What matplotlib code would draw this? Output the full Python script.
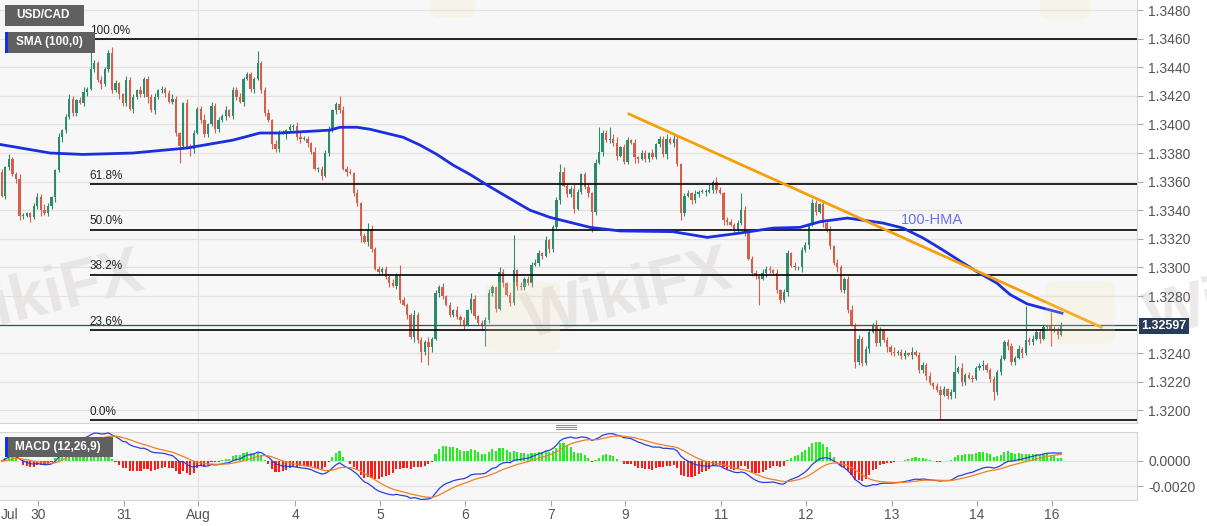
import numpy as np
import pandas as pd
import matplotlib
matplotlib.use("Agg")
import matplotlib.pyplot as plt
from matplotlib.patches import Rectangle, FancyBboxPatch
from matplotlib.lines import Line2D

plt.rcParams["font.family"] = ["Liberation Sans", "DejaVu Sans"]

W, H = 1207, 526

# hourly USD/CAD closes, in pips (13350 -> 1.3350)
closes_pips = [
    13350, 13370, 13376, 13365, 13362, 13336, 13336, 13338, 13335, 13343,
    13349, 13340, 13338, 13343, 13349, 13368, 13391, 13396, 13405, 13418,
    13408, 13417, 13415, 13423, 13425, 13439, 13443, 13431, 13428, 13439,
    13450, 13424, 13429, 13421, 13415, 13431, 13411, 13419, 13424, 13421,
    13432, 13419, 13410, 13419, 13424, 13425, 13422, 13416, 13418, 13394,
    13385, 13415, 13384, 13383, 13394, 13411, 13403, 13393, 13400, 13413,
    13397, 13403, 13406, 13410, 13406, 13424, 13419, 13416, 13432, 13435,
    13425, 13432, 13443, 13424, 13408, 13403, 13386, 13383, 13394,
    # Aug 4 - 7
    13394, 13396, 13398, 13399, 13391, 13390, 13390, 13387, 13381, 13369,
    13369, 13364, 13380, 13396, 13410, 13414, 13410, 13369, 13367, 13366,
    13352, 13345, 13322, 13318, 13327, 13313, 13299, 13297, 13299, 13293,
    13289, 13287, 13295, 13277, 13274, 13267, 13251, 13267, 13249, 13241,
    13248, 13244, 13250, 13282, 13286, 13280, 13274, 13267, 13270, 13265,
    13263, 13260, 13270, 13278, 13266, 13261, 13259, 13263, 13282, 13286,
    13271, 13297, 13289, 13281, 13275, 13298, 13287, 13286, 13292, 13289,
    13302, 13303, 13310, 13308, 13319,
    # Aug 7 - 12
    13313, 13328, 13347, 13367, 13357, 13351, 13355, 13341, 13353, 13365,
    13356, 13352, 13339, 13373, 13381, 13394, 13389, 13390, 13387, 13378,
    13384, 13374, 13389, 13387, 13377, 13376, 13380, 13376, 13380, 13377,
    13386, 13390, 13379, 13390, 13387, 13390, 13372, 13338, 13350, 13352,
    13347, 13351, 13353, 13353, 13353, 13354, 13360, 13354, 13352, 13333,
    13332, 13330, 13327, 13331, 13340, 13325, 13306, 13296, 13294, 13292,
    13296, 13299, 13298, 13296, 13284, 13277, 13283, 13310, 13301, 13300,
    13300, 13312, 13316, 13330, 13345, 13339,
    # Aug 12 - 16
    13344, 13331, 13327, 13315, 13303, 13300, 13284, 13292, 13270, 13260,
    13234, 13250, 13233, 13243, 13255, 13260, 13247, 13256, 13249, 13244,
    13241, 13240, 13241, 13238, 13240, 13239, 13241, 13239, 13228, 13232,
    13224, 13219, 13217, 13214, 13211, 13215, 13210, 13213, 13227, 13230,
    13220, 13225, 13223, 13222, 13230, 13231, 13232, 13228, 13222, 13213,
    13227, 13236, 13248, 13245, 13234, 13237, 13243, 13240, 13249, 13248,
    13250, 13255, 13250, 13258, 13259, 13256, 13257, 13253, 13259.7,
]
first_open = 13367

# ordinary wick length beyond the body, in pips
wick_up = (
    "21312321123242113123212" "31221312421132213122312" "12321132212413221312231"
    "22131231322121342213122" "31213221312431212231321" "13221312231213221431223"
    "21321221312232131221312" "32122131221341221312213" "12231321221312241321221"
    "21312213221312213122132" "13221321241312213212231" "22131221312321221312212"
    "31221312213122312213212"
)
wick_dn = (
    "12213221312412231321221" "23121312213221312241312" "31221213312221321312213"
    "12312213221412231321231" "21321312241321221312213" "13212231321221341221312"
    "22131213221312213213122" "31213221312231221431221" "12231312213221312213213"
    "21312241321221312231312" "13221312213221312213221" "22131223121312241321212"
    "31212213221312213122131"
)
# long wicks
spike_highs = {25: 13460, 30: 13452, 72: 13451, 95: 13420, 112: 13302, 144: 13323,
               157: 13372, 168: 13398, 171: 13398, 208: 13352, 228: 13348,
               268: 13239, 288: 13273, 295: 13269}
spike_lows = {5: 13333, 50: 13373, 53: 13378, 118: 13234, 120: 13232, 136: 13245,
              166: 13325, 191: 13333, 213: 13274, 220: 13276, 240: 13230,
              264: 13193, 279: 13207, 295: 13245}

# 100 period average line (candle index, pips)
sma_idx = [-0.5, 13.6, 22.8, 36.9, 52.1, 65.0, 72.6, 78.3, 92.3, 95.1, 99.9, 103.6,
           112.9, 117.6, 122.4, 126.9, 131.7, 136.5, 141.0, 145.8, 148.6, 154.2,
           165.5, 173.9, 188.8, 198.4, 207.6, 217.0, 224.5, 230.2, 237.8, 242.3,
           247.9, 253.5, 259.1, 264.8, 269.5, 274.3, 279.9, 283.6, 288.4, 292.9, 298.2]
sma_pips = [13386, 13380, 13379, 13380, 13383.5, 13389, 13394, 13394, 13396, 13398,
            13398, 13396.6, 13391, 13385.6, 13379, 13371.6, 13365, 13357.6, 13351,
            13344, 13340, 13335, 13328, 13325.5, 13325, 13321, 13324, 13327.5, 13328,
            13332, 13334.5, 13333, 13331, 13327.5, 13320.6, 13312, 13304.5, 13297,
            13289, 13281, 13274.5, 13271.5, 13268]

# falling trendline anchors
trend_idx = [176.4, 309.2]
trend_pips = [13407.3, 13258.3]

fib_ratios = [1.0, 0.618, 0.5, 0.382, 0.236, 0.0]
fib_labels = ["100.0%", "61.8%", "50.0%", "38.2%", "23.6%", "0.0%"]

day_labels = ["Jul", "30", "31", "Aug", "4", "5", "6", "7", "9", "11", "12", "13", "14", "16"]
day_pos = [-0.4, 10.2, 34.4, 55.3, 82.5, 106.4, 130.3, 154.5, 175.3, 202.3, 226.2,
           250.4, 274.3, 295.4]

last_price = 1.32597

# ---- build candles
closes = np.array(closes_pips) / 10000
n = len(closes)
opens = np.r_[first_open / 10000, closes[:-1]]
up = np.array([int(c) for c in wick_up[:n]]) / 10000
dn = np.array([int(c) for c in wick_dn[:n]]) / 10000
highs = np.maximum(opens, closes) + up
lows = np.minimum(opens, closes) - dn
for k, v in spike_highs.items():
    highs[k] = v / 10000
for k, v in spike_lows.items():
    lows[k] = v / 10000
idx = np.arange(n)

GREEN = "#2e8b6f"
RED = "#d4604c"
colors = np.where(closes >= opens, GREEN, RED)

# MACD, histogram drawn as 2 * (DIF - DEA)
s = pd.Series(closes)
macd = s.ewm(span=12, adjust=False).mean() - s.ewm(span=26, adjust=False).mean()
signal = macd.ewm(span=9, adjust=False).mean()
hist = 2 * (macd - signal)

XMIN, XMAX = -0.5, 319.3

fig = plt.figure(figsize=(W / 100, H / 100), dpi=100)
fig.patch.set_facecolor("white")
ax = fig.add_axes([0, 1 - 423 / H, 1137 / W, 423 / H])
ax2 = fig.add_axes([0, 1 - 500 / H, 1137 / W, 68 / H])

for a in (ax, ax2):
    a.set_facecolor("#f7f7f7")
    a.set_xlim(XMIN, XMAX)
    for sp in a.spines.values():
        sp.set_color("#d4d4d4")
    a.spines["left"].set_visible(False)
    a.yaxis.tick_right()
    a.tick_params(axis="y", length=4, color="#aaaaaa", labelcolor="#555555",
                  labelsize=10, pad=4)
    a.axvline(55.3, color="#e2e2e2", lw=0.9, zorder=0.6)

# ---- main panel
ax.set_ylim(1.31912, 1.34870)
yt = np.arange(1.3200, 1.34801, 0.002)
ax.set_yticks(yt)
# the 1.3260 label sits under the price tag
ax.set_yticklabels(["" if abs(v - 1.326) < 1e-6 else "%.4f" % v for v in yt])
ax.grid(axis="y", color="#e2e2e2", lw=0.9, zorder=0.6)
ax.set_xticks([])
ax.spines["top"].set_visible(False)

# watermarks
wm = dict(fontsize=46, fontweight="bold", color="#d9d4d4", alpha=0.5,
          rotation=14, ha="center", va="center", transform=fig.transFigure,
          zorder=0.7, clip_on=False)
ax.text(40 / W, 1 - 298 / H, "WikiFX", **wm)
ax.text(628 / W, 1 - 296 / H, "WikiFX", **wm)
ax.text(1250 / W, 1 - 296 / H, "WikiFX", **wm)
for (bx, by, bw, bh) in [(485, 282, 75, 70), (1045, 282, 70, 62), (430, -10, 45, 28), (1040, -10, 50, 30)]:
    fig.add_artist(FancyBboxPatch((bx / W, 1 - (by + bh) / H), bw / W, bh / H,
                                  boxstyle="round,pad=0,rounding_size=0.012",
                                  transform=fig.transFigure, facecolor="#f3e3b0",
                                  edgecolor="none", alpha=0.2, zorder=5))

ax.vlines(idx, lows, highs, colors=colors, lw=0.8, zorder=2.5)
body = np.maximum(np.abs(closes - opens), 0.00004)
ax.bar(idx, body, bottom=np.minimum(opens, closes), width=0.65, color=colors, zorder=3)

ax.plot(sma_idx, np.array(sma_pips) / 10000, color="#1a2fe0", lw=2, zorder=4)
ax.plot(trend_idx, np.array(trend_pips) / 10000, color="#f5a00a", lw=2, zorder=4.5)
ax.text(261.7, 1.33331, "100-HMA", color="#6b6ff0", fontsize=10.5, ha="center",
        va="center", zorder=5)

hi_i = int(np.argmax(highs))
hi, lo = highs.max(), lows.min()
for r, lab in zip(fib_ratios, fib_labels):
    lvl = lo + r * (hi - lo)
    ax.hlines(lvl, hi_i - 0.3, XMAX, color="black", lw=1.2, zorder=3.5)
    ax.annotate(lab, (hi_i - 0.3, lvl), xytext=(0, 1.5), textcoords="offset points",
                fontsize=8.5, color="#222222", va="bottom", ha="left", zorder=5)

ax.axhline(last_price, color="#2d4f7c", lw=0.9, zorder=3.6)

# ---- MACD panel
ax2.set_ylim(-0.00312, 0.00232)
ax2.set_yticks([0.0, -0.002])
ax2.set_yticklabels(["0.0000", "-0.0020"])
ax2.grid(axis="y", color="#e2e2e2", lw=0.9, zorder=0.6)
ax2.bar(idx, hist, width=0.6, color=np.where(hist >= 0, "#22ee22", "#ff1a1a"), zorder=2)
ax2.plot(idx, macd, color="#2b3fd8", lw=0.9, zorder=3)
ax2.plot(idx, signal, color="#f07f2a", lw=0.9, zorder=3)
ax2.set_xticks(day_pos)
ax2.set_xticklabels(day_labels)
ax2.tick_params(axis="x", length=4, color="#aaaaaa", labelcolor="#555555",
                labelsize=10, pad=2)
ax2.get_xticklabels()[0].set_ha("left")
ax2.get_xticklines()[0].set_visible(False)


# ---- legend boxes and price tag (pixel positions)
def box(x, y, w, h, color, z=10):
    fig.add_artist(Rectangle((x / W, 1 - (y + h) / H), w / W, h / H,
                             transform=fig.transFigure, facecolor=color,
                             edgecolor="none", zorder=z))


def label(x, y, txt, size=8.5, ha="left"):
    fig.text(x / W, 1 - y / H, txt, color="white", fontsize=size,
             fontweight="bold", ha=ha, va="center", zorder=12)


box(5, 5, 79, 21, "#606060")
label(16, 15.5, "USD/CAD")
box(5, 32, 90, 21, "#606060")
box(5, 32, 2.5, 21, "#1a2fe0", 11)
label(16, 42.5, "SMA (100,0)")
box(5, 437, 108, 20, "#606060")
box(5, 437, 2.5, 20, "#1a2fe0", 11)
label(15, 447, "MACD (12,26,9)")
box(1139, 318, 50, 16, "#263c5a")
label(1164, 326, "%.5f" % last_price, size=9, ha="center")

for yy in (424.5, 426.5, 428.5):
    fig.add_artist(Line2D([556 / W, 576 / W], [1 - yy / H, 1 - yy / H],
                          transform=fig.transFigure, color="#888888", lw=0.7))

fig.savefig("out.png", dpi=100)
